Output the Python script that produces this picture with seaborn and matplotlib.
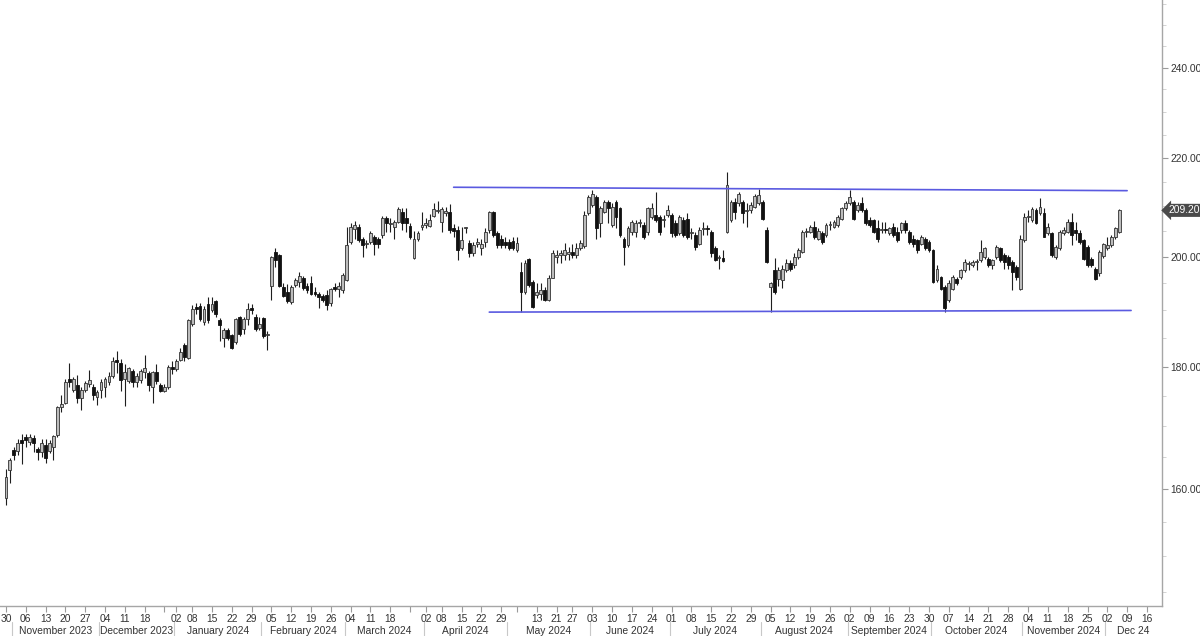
import numpy as np
import pandas as pd
import matplotlib.pyplot as plt
import matplotlib.ticker as mticker
import matplotlib.transforms as mtransforms
import seaborn as sns

# daily candles, one value per trading day (30 Oct 2023 onwards)
opens = [
    158.6, 163.0, 166.1, 166.0, 167.7, 168.3, 167.4, 168.0, 166.3, 165.8,
    166.9, 166.0, 166.7, 168.5, 173.1, 173.8, 177.9, 176.0, 176.9, 174.6,
    176.0, 177.0, 176.5, 174.8, 176.0, 176.5, 177.4, 178.4, 181.2, 180.7,
    177.8, 177.5, 179.3, 177.4, 177.7, 179.1, 178.9, 176.5, 179.0, 176.9,
    175.9, 176.5, 180.0, 179.6, 181.1, 183.8, 181.5, 187.5, 190.7, 190.9,
    187.9, 191.1, 190.1, 191.7, 188.2, 185.1, 186.5, 185.6, 184.3, 188.8,
    186.6, 188.4, 190.4, 188.8, 186.9, 188.6, 185.5, 194.5, 201.0, 200.4,
    194.4, 193.4, 191.5, 194.7, 195.2, 196.0, 194.6, 195.0, 193.4, 193.1,
    192.6, 192.9, 191.4, 194.3, 194.0, 193.8, 195.6, 202.9, 205.5, 205.9,
    203.6, 202.5, 202.9, 203.9, 203.5, 204.3, 207.6, 206.5, 205.9, 206.9,
    208.8, 207.6, 206.0, 199.8, 203.6, 205.9, 206.3, 206.1, 208.0, 209.0,
    206.9, 208.6, 208.8, 205.6, 205.3, 201.8, 205.6, 202.7, 200.8, 202.5,
    201.8, 202.9, 205.3, 208.8, 204.6, 203.6, 203.0, 203.0, 203.2, 201.3,
    197.2, 193.4, 199.6, 195.3, 192.8, 193.0, 193.8, 191.9, 196.1, 200.1,
    200.4, 200.4, 200.6, 201.0, 200.4, 201.7, 202.1, 208.6, 210.3, 211.9,
    206.6, 208.9, 210.9, 206.3, 210.9, 209.6, 203.6, 202.3, 204.9, 204.9,
    206.6, 206.3, 204.9, 207.9, 208.2, 207.9, 207.2, 208.2, 208.2, 206.6,
    204.6, 207.2, 207.5, 204.7, 204.3, 202.6, 205.4, 205.6, 204.9, 201.7,
    199.8, 199.9, 204.9, 207.2, 210.9, 210.6, 210.9, 209.1, 209.3, 209.9,
    210.6, 210.9, 205.3, 194.3, 197.6, 195.9, 195.6, 197.5, 198.8, 198.5,
    200.1, 201.0, 204.8, 204.9, 205.9, 203.6, 204.6, 204.3, 206.2, 205.9,
    206.3, 207.5, 209.6, 210.6, 210.9, 209.2, 210.6, 209.2, 207.2, 207.2,
    205.6, 205.2, 205.4, 204.6, 205.9, 204.9, 205.3, 206.7, 204.9, 203.6,
    203.3, 202.6, 203.6, 203.0, 201.3, 195.6, 196.2, 194.3, 191.9, 194.0,
    195.9, 196.2, 197.5, 198.7, 198.5, 199.0, 199.4, 200.1, 199.7, 198.5,
    200.1, 201.7, 200.4, 200.1, 199.1, 198.1, 194.0, 203.3, 207.8, 207.2,
    209.2, 208.6, 208.6, 204.6, 204.6, 200.1, 201.7, 204.6, 204.9, 206.9,
    205.3, 204.6, 203.3, 202.0, 199.7, 197.8, 196.9, 200.2, 201.7, 202.3,
    203.9, 204.9,
]
highs = [
    163.2, 164.8, 166.6, 167.9, 168.7, 168.8, 168.8, 168.6, 166.6, 167.9,
    167.9, 167.7, 168.6, 173.4, 175.1, 177.8, 180.7, 178.3, 178.5, 176.6,
    177.6, 179.4, 177.0, 176.0, 177.9, 178.3, 179.0, 181.7, 182.8, 181.3,
    180.4, 179.9, 179.6, 178.9, 179.6, 182.0, 179.3, 179.3, 180.5, 177.2,
    177.0, 180.3, 181.0, 181.4, 183.3, 184.1, 188.4, 191.0, 191.3, 191.3,
    190.8, 192.4, 192.4, 192.0, 188.6, 186.8, 186.9, 185.8, 188.6, 189.0,
    188.8, 191.3, 191.1, 189.3, 188.8, 188.8, 186.2, 200.2, 201.7, 200.6,
    195.1, 194.9, 194.7, 196.0, 197.1, 196.4, 195.0, 196.4, 194.3, 193.4,
    193.0, 193.8, 194.2, 195.0, 195.2, 197.0, 205.9, 206.6, 207.0, 206.5,
    204.0, 203.4, 205.0, 204.3, 204.0, 208.0, 208.0, 207.6, 207.2, 209.9,
    209.6, 209.6, 206.6, 205.0, 205.0, 208.8, 207.6, 208.4, 210.6, 211.1,
    209.9, 209.8, 210.4, 206.4, 206.0, 205.9, 205.9, 203.3, 203.0, 203.8,
    203.6, 205.6, 209.0, 209.0, 205.0, 204.3, 204.0, 203.6, 203.9, 203.9,
    199.1, 199.4, 199.8, 195.6, 195.0, 195.1, 194.3, 196.5, 201.3, 201.3,
    201.3, 202.8, 202.0, 202.6, 202.8, 203.3, 209.0, 212.3, 213.3, 212.3,
    210.0, 211.3, 211.3, 210.6, 211.3, 209.9, 204.0, 206.0, 207.2, 207.2,
    207.5, 206.9, 209.9, 210.6, 212.9, 208.2, 208.2, 210.3, 208.6, 207.2,
    208.2, 207.9, 208.6, 205.6, 204.9, 205.9, 206.9, 206.3, 205.2, 202.1,
    200.4, 201.3, 217.0, 211.3, 211.6, 212.9, 211.3, 210.6, 210.9, 212.6,
    213.6, 211.3, 205.9, 195.3, 199.9, 198.1, 198.5, 199.6, 199.4, 200.7,
    201.7, 205.3, 205.6, 206.3, 207.0, 205.6, 205.0, 206.6, 207.0, 207.2,
    208.2, 209.9, 211.0, 213.3, 211.3, 210.9, 211.9, 209.6, 207.9, 207.5,
    207.2, 206.9, 206.9, 205.9, 206.6, 205.9, 206.9, 207.2, 205.3, 204.3,
    203.6, 204.3, 203.9, 203.3, 201.6, 198.5, 196.4, 194.7, 195.6, 196.6,
    196.2, 197.8, 199.6, 199.3, 199.4, 199.7, 203.3, 202.0, 200.1, 199.7,
    202.3, 202.0, 200.7, 200.4, 199.4, 198.5, 204.3, 208.6, 209.2, 209.9,
    209.6, 211.6, 209.6, 206.6, 204.9, 202.3, 205.3, 205.9, 207.5, 208.6,
    206.9, 205.3, 203.6, 202.3, 200.1, 198.1, 201.3, 202.8, 203.9, 204.3,
    205.9, 209.4,
]
lows = [
    157.6, 161.0, 164.5, 165.3, 164.0, 166.7, 166.9, 165.9, 164.6, 165.0,
    164.1, 165.6, 164.6, 168.3, 172.3, 173.6, 176.6, 175.6, 173.8, 172.6,
    175.6, 176.6, 174.3, 173.5, 174.6, 174.8, 176.8, 178.0, 178.9, 175.8,
    173.4, 177.2, 176.5, 176.5, 177.2, 178.0, 175.8, 173.8, 177.0, 175.6,
    175.6, 176.2, 178.8, 179.2, 181.0, 181.0, 181.3, 187.2, 189.4, 188.0,
    187.3, 187.8, 189.8, 188.8, 184.5, 183.5, 184.6, 183.1, 184.0, 185.4,
    185.7, 187.3, 189.4, 186.2, 186.5, 185.0, 182.9, 191.9, 198.1, 194.4,
    192.5, 191.4, 191.2, 194.3, 194.3, 193.8, 193.3, 192.8, 192.7, 190.5,
    191.6, 190.1, 190.8, 193.5, 192.4, 193.3, 195.4, 202.6, 203.5, 202.9,
    200.0, 201.8, 202.5, 200.4, 201.8, 203.8, 204.9, 204.9, 203.6, 206.7,
    205.3, 204.9, 203.6, 199.6, 203.2, 205.3, 205.6, 205.9, 207.8, 208.7,
    204.9, 208.0, 204.6, 204.0, 199.4, 201.3, 204.6, 200.0, 200.2, 202.0,
    200.4, 202.0, 204.6, 204.0, 201.8, 201.8, 201.8, 201.3, 201.3, 201.0,
    189.7, 193.0, 194.3, 190.4, 192.2, 192.0, 191.8, 191.7, 196.0, 198.8,
    198.8, 199.4, 199.4, 199.8, 199.8, 201.3, 201.7, 208.3, 209.9, 203.6,
    203.9, 208.6, 206.6, 205.9, 205.6, 204.0, 198.5, 202.0, 204.3, 203.9,
    205.9, 203.6, 204.3, 207.5, 206.9, 204.3, 205.9, 207.9, 203.9, 203.9,
    204.3, 203.9, 203.6, 203.6, 201.3, 202.3, 204.3, 204.3, 200.1, 199.2,
    197.8, 199.0, 204.6, 206.9, 207.5, 210.0, 206.6, 205.9, 208.6, 209.6,
    210.3, 207.2, 198.8, 189.8, 193.1, 194.6, 194.1, 197.2, 197.4, 198.0,
    199.6, 200.7, 203.9, 204.6, 203.6, 203.3, 202.6, 203.9, 205.3, 205.6,
    205.9, 207.2, 209.2, 210.3, 207.2, 208.9, 208.9, 206.3, 205.9, 204.6,
    203.0, 204.6, 204.6, 204.3, 203.9, 203.0, 204.6, 204.6, 202.6, 202.0,
    200.7, 202.3, 201.3, 201.0, 195.0, 195.3, 193.8, 189.8, 191.6, 193.8,
    194.7, 195.9, 197.2, 197.5, 198.1, 197.5, 199.1, 199.7, 198.1, 197.8,
    199.7, 199.1, 197.8, 197.8, 193.8, 195.6, 193.8, 203.0, 206.9, 206.9,
    206.4, 208.2, 203.9, 204.3, 200.1, 199.7, 201.3, 204.3, 204.6, 202.3,
    203.3, 202.6, 199.4, 198.1, 198.1, 195.6, 196.4, 199.9, 201.3, 202.0,
    203.6, 204.6,
]
closes = [
    161.9, 164.5, 165.3, 167.3, 167.2, 167.7, 168.3, 167.2, 165.9, 167.2,
    164.9, 167.2, 168.4, 173.1, 173.6, 177.4, 177.3, 177.9, 174.6, 176.0,
    177.2, 177.7, 175.1, 175.6, 177.3, 177.9, 178.4, 181.0, 180.8, 177.7,
    179.1, 179.7, 177.4, 178.4, 179.3, 179.7, 176.9, 179.0, 177.5, 175.9,
    176.6, 180.0, 179.6, 181.0, 182.6, 181.6, 188.2, 190.3, 190.3, 188.4,
    190.3, 188.2, 191.1, 189.4, 187.4, 186.4, 185.0, 183.3, 188.4, 185.8,
    188.4, 190.3, 190.1, 186.6, 187.6, 185.4, 185.7, 200.0, 199.4, 194.6,
    192.7, 191.7, 194.4, 195.6, 196.4, 194.2, 193.8, 193.1, 193.0, 192.4,
    192.0, 191.0, 193.9, 194.0, 194.5, 196.6, 202.3, 205.9, 206.3, 203.3,
    202.3, 202.8, 204.6, 202.6, 202.6, 207.6, 206.6, 206.7, 206.8, 209.4,
    206.7, 206.6, 204.0, 203.5, 204.6, 206.3, 206.6, 207.2, 209.4, 209.2,
    209.4, 209.0, 205.3, 205.0, 201.3, 203.3, 205.8, 200.8, 202.3, 203.0,
    202.6, 204.9, 208.8, 204.3, 202.3, 202.3, 202.3, 201.8, 201.7, 202.8,
    193.4, 198.8, 194.7, 190.7, 193.4, 193.8, 191.9, 196.1, 200.8, 200.4,
    200.7, 201.4, 201.0, 200.4, 201.7, 202.8, 208.2, 211.9, 212.6, 205.6,
    209.6, 210.9, 209.6, 209.9, 207.9, 204.3, 202.0, 205.6, 206.9, 206.6,
    206.9, 203.9, 209.6, 209.6, 207.2, 204.9, 207.4, 209.3, 204.6, 204.3,
    207.9, 204.3, 203.9, 204.9, 202.0, 205.3, 205.6, 205.5, 200.7, 199.4,
    200.0, 199.3, 214.3, 210.9, 208.9, 212.6, 208.6, 209.3, 210.3, 212.1,
    212.3, 207.5, 199.1, 195.0, 193.4, 197.5, 197.8, 198.9, 197.8, 200.1,
    201.3, 204.9, 205.0, 205.8, 203.9, 205.1, 203.0, 206.3, 206.4, 206.8,
    207.9, 209.6, 210.6, 211.9, 207.5, 210.3, 209.2, 206.6, 206.3, 204.9,
    203.6, 205.4, 205.2, 205.6, 204.3, 203.3, 206.7, 205.3, 203.0, 202.6,
    201.3, 203.9, 201.7, 201.3, 195.3, 197.8, 194.0, 190.4, 195.0, 196.2,
    195.0, 197.5, 199.1, 198.9, 199.1, 199.2, 201.0, 201.7, 198.5, 199.4,
    201.9, 199.4, 199.1, 198.5, 197.2, 196.2, 203.6, 207.9, 208.0, 209.4,
    206.6, 209.9, 203.9, 205.9, 200.4, 202.0, 204.9, 205.3, 206.9, 204.3,
    204.6, 203.0, 199.7, 198.5, 198.5, 195.9, 201.0, 202.5, 202.3, 203.9,
    205.6, 209.2,
]

first_day = "2023-10-30"
axis_end_day = "2024-12-20"
holidays = ["2023-12-25", "2023-12-26", "2024-01-01", "2024-03-29", "2024-04-01",
            "2024-05-01", "2024-05-20"]
unlabeled_weeks = ["2023-12-27", "2024-03-25", "2024-05-06"]
month_labels = ["November 2023", "December 2023", "January 2024", "February 2024", "March 2024",
                "April 2024", "May 2024", "June 2024", "July 2024", "August 2024",
                "September 2024", "October 2024", "November 2024", "Dec 24"]

# hand drawn channel
upper_line_dates = ["2024-04-11", "2024-12-09"]
upper_line_prices = [213.9, 213.2]
lower_line_dates = ["2024-04-24", "2024-12-10"]
lower_line_prices = [189.7, 190.0]

y_ticks = [160, 180, 200, 220, 240]

# trading calendar -> x position without weekend/holiday gaps
days = pd.bdate_range(first_day, axis_end_day)
days = days[~days.isin(pd.to_datetime(holidays))]
day_pos = pd.Series(np.arange(len(days)), index=days)

df = pd.DataFrame({"pos": np.arange(len(closes)), "open": opens, "high": highs,
                   "low": lows, "close": closes})
df["body_low"] = df[["open", "close"]].min(axis=1)
df["body"] = (df[["open", "close"]].max(axis=1) - df["body_low"]).clip(lower=0.15)
up = df[df["close"] >= df["open"]]
down = df[df["close"] < df["open"]]

sns.set_theme(style="white")
plt.rcParams["font.family"] = ["Liberation Sans", "DejaVu Sans"]
fs = 7.4

fig = plt.figure(figsize=(12, 6.36), dpi=100)
ax = fig.add_axes([0, 30 / 636, 1162 / 1200, 606 / 636])

# wicks
ax.vlines(df["pos"], df["low"], df["high"], color="#1e1e1e", linewidth=0.8, zorder=1)
# bodies
sns.barplot(data=up, x="pos", y="body", bottom=up["body_low"].to_numpy(), native_scale=True,
            width=0.72, color="#bcbcbc", saturation=1, edgecolor="#333333", linewidth=0.6,
            errorbar=None, zorder=2, ax=ax)
sns.barplot(data=down, x="pos", y="body", bottom=down["body_low"].to_numpy(), native_scale=True,
            width=0.72, color="#111111", saturation=1, edgecolor="#111111", linewidth=0.6,
            errorbar=None, zorder=2, ax=ax)

# channel lines
for d, p in [(upper_line_dates, upper_line_prices), (lower_line_dates, lower_line_prices)]:
    xs = [day_pos[pd.Timestamp(v)] for v in d]
    sns.lineplot(x=xs, y=p, color="#5a5ae0", linewidth=1.2, ax=ax, zorder=3)

ax.set_yscale("log")
ax.set_ylim(143.0, 256.1)
x_right = 291.8
ax.set_xlim(-1.5, x_right)
ax.set_xlabel("")
ax.set_ylabel("")

# right price axis
ax.yaxis.tick_right()
ax.yaxis.set_major_locator(mticker.FixedLocator(y_ticks))
ax.yaxis.set_major_formatter(mticker.FormatStrFormatter("%.2f"))
ax.yaxis.set_minor_locator(mticker.FixedLocator([v for v in range(145, 256, 5) if v not in y_ticks]))
ax.yaxis.set_minor_formatter(mticker.NullFormatter())
ax.tick_params(axis="y", which="major", right=True, left=False, length=4, width=0.8,
               color="#9a9a9a", labelsize=fs, labelcolor="#333333", pad=2)
ax.tick_params(axis="y", which="minor", right=True, left=False, length=3, width=0.6, color="#cccccc")

# weekly ticks on the first trading day of each week
weeks = pd.Series(days).dt.to_period("W")
week_idx = [k for k in np.flatnonzero(~weeks.duplicated().to_numpy()) if k <= x_right]
week_labels = ["" if days[k].strftime("%Y-%m-%d") in unlabeled_weeks else days[k].strftime("%d")
               for k in week_idx]
ax.set_xticks(week_idx)
ax.set_xticklabels(week_labels)
ax.xaxis.set_minor_locator(mticker.NullLocator())
ax.tick_params(axis="x", which="major", bottom=True, length=4, width=0.8, color="#9a9a9a",
               labelsize=fs, labelcolor="#333333", pad=1.5)

# month row with separators
trans = mtransforms.blended_transform_factory(ax.transData, ax.transAxes)
months = pd.Series(days).dt.to_period("M")
month_idx = np.flatnonzero(~months.duplicated().to_numpy())[1:]
seps = list(month_idx - 0.5)
for s in seps:
    ax.plot([s, s], [-0.027, -0.05], transform=trans, color="#c8c8c8", linewidth=0.8, clip_on=False)
edges = seps + [x_right]
for k, lab in enumerate(month_labels):
    ax.text((edges[k] + edges[k + 1]) / 2, -0.041, lab, transform=trans, ha="center", va="center",
            fontsize=fs, color="#333333")

for s in ["top", "left"]:
    ax.spines[s].set_visible(False)
for s in ["right", "bottom"]:
    ax.spines[s].set_color("#a6a6a6")
    ax.spines[s].set_linewidth(1)

# last price badge
ax.annotate(f"{closes[-1]:.2f}", xy=(1, closes[-1]), xycoords=("axes fraction", "data"),
            xytext=(4.5, 0), textcoords="offset points", ha="left", va="center", fontsize=fs,
            color="white", annotation_clip=False,
            bbox=dict(boxstyle="larrow,pad=0.15", fc="#4a4a4a", ec="none"))

fig.savefig("out.png", dpi=100)
